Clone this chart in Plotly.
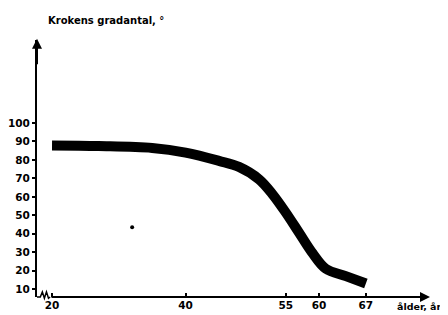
import plotly.graph_objects as go

age = [20, 27, 35, 40, 45, 48, 51, 53, 55, 57, 59, 61, 64, 67]
angle = [87.8, 87.5, 86.5, 84.0, 79.5, 76.2, 69.5, 61.5, 51.5, 40.5, 29.5, 21.0, 17.0, 13.0]
dot_age = [32]
dot_angle = [43.5]
xticks = [20, 40, 55, 60, 67]
yticks = [10, 20, 30, 40, 50, 60, 70, 80, 90, 100]

XR = [17.75, 79.3]
YR = [5.7, 145]
FONT = dict(family="DejaVu Sans, Liberation Sans, sans-serif", size=10.5, color="black", weight="bold")
TFONT = dict(family="DejaVu Sans, Liberation Sans, sans-serif", size=10, color="black", weight="bold")

fig = go.Figure()
fig.add_trace(go.Scatter(x=age, y=angle, mode="lines",
                         line=dict(color="black", width=10, shape="spline"),
                         hoverinfo="skip"))
fig.add_trace(go.Scatter(x=dot_age, y=dot_angle, mode="markers",
                         marker=dict(color="black", size=4), hoverinfo="skip"))

# page has an 8px body margin, so the figure is 8px smaller and shifted
fig.update_layout(
    width=440, height=307,
    margin=dict(l=29, r=0, t=32, b=18, autoexpand=False),
    paper_bgcolor="white", plot_bgcolor="white",
    showlegend=False,
    font=FONT,
    xaxis=dict(range=XR, tickvals=xticks, ticktext=[str(v) for v in xticks],
               showgrid=False, zeroline=False, showline=False, automargin=False,
               ticks="inside", ticklen=4, tickwidth=1.5, tickcolor="black",
               tickfont=FONT, fixedrange=True),
    yaxis=dict(range=YR, tickvals=yticks, ticktext=[str(v) for v in yticks],
               showgrid=False, zeroline=False, showline=True, linecolor="black",
               linewidth=2, ticks="outside", ticklen=3, tickwidth=1.5, automargin=False,
               tickcolor="black", tickfont=FONT, fixedrange=True),
)

# x axis line with arrow (after the zigzag break)
fig.add_annotation(xref="x domain", yref="y domain", x=393/411, y=0,
                   axref="x domain", ayref="y domain", ax=13/411, ay=0,
                   showarrow=True, arrowhead=2, arrowsize=1, arrowwidth=2,
                   arrowcolor="black", text="")
# zigzag break near origin
fig.add_shape(type="path", xref="paper", yref="paper",
              path="M 0,0 L 0.008,0 L 0.013,0.02 L 0.018,-0.005 L 0.023,0.02 L 0.028,-0.005 L 0.032,0",
              line=dict(color="black", width=1.5))
# y axis arrow
fig.add_annotation(xref="x domain", yref="y domain", x=0, y=1.005,
                   axref="x domain", ayref="y domain", ax=0, ay=0.9,
                   showarrow=True, arrowhead=2, arrowsize=1, arrowwidth=2,
                   arrowcolor="black", text="")
fig.add_annotation(xref="paper", yref="paper", x=9/411, y=1 + 20/257,
                   xanchor="left", yanchor="middle", showarrow=False,
                   text="Krokens gradantal, °", font=TFONT)
fig.add_annotation(xref="paper", yref="paper", x=(444 - 37) / 411, y=-9/257,
                   xanchor="right", yanchor="middle", showarrow=False,
                   text="ålder, år",
                   font=dict(family=TFONT["family"], size=9.5, color="black", weight="bold"))

fig.write_html("out.html",
               post_script="document.body.style.overflow='hidden';")
